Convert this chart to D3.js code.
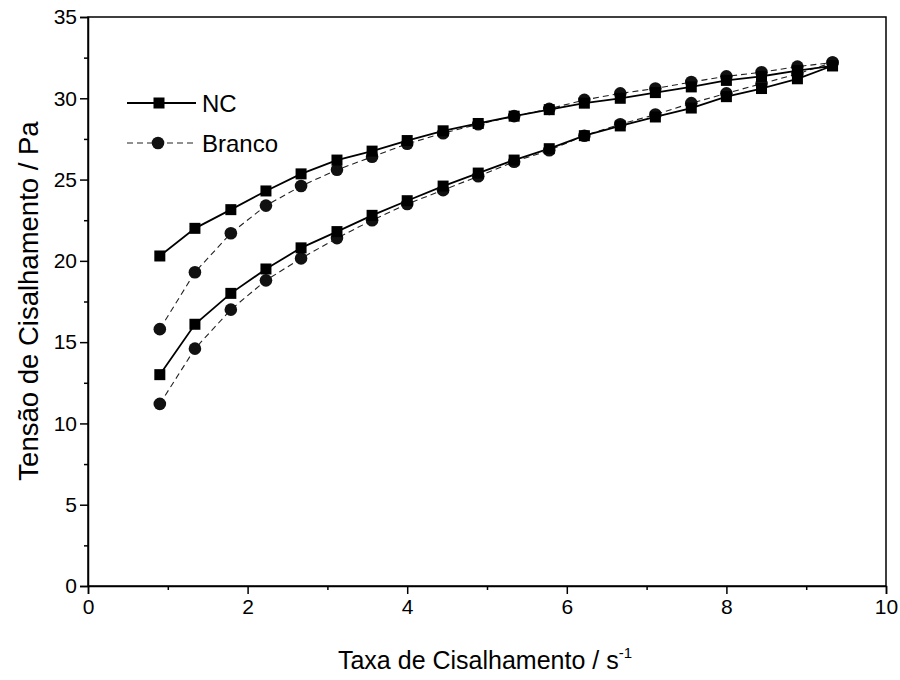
<!DOCTYPE html>
<html>
<head>
<meta charset="utf-8">
<script src="https://cdn.jsdelivr.net/npm/d3@7/dist/d3.min.js"></script>
<style>
  body { margin: 0; background: #fff; }
  svg { display: block; font-family: "Liberation Sans", Arial, sans-serif; }
</style>
</head>
<body>
<svg id="chart" width="900" height="680"></svg>
<script>
// ---- data ----
const shearRate = [0.90, 1.34, 1.79, 2.23, 2.67, 3.12, 3.56, 4.00, 4.45, 4.89,
                   5.34, 5.78, 6.22, 6.67, 7.11, 7.56, 8.00, 8.44, 8.89, 9.33];
const ncUp     = [13.0, 16.1, 18.0, 19.5, 20.8, 21.8, 22.8, 23.7, 24.6, 25.4,
                  26.2, 26.9, 27.7, 28.3, 28.85, 29.4, 30.1, 30.6, 31.2, 32.0];
const ncDown   = [20.3, 22.0, 23.15, 24.3, 25.35, 26.2, 26.75, 27.4, 28.0, 28.45,
                  28.9, 29.3, 29.7, 30.0, 30.35, 30.7, 31.1, 31.35, 31.7, 32.0];
const brUp     = [11.2, 14.6, 17.0, 18.8, 20.15, 21.4, 22.5, 23.5, 24.35, 25.2,
                  26.1, 26.8, 27.7, 28.4, 29.0, 29.7, 30.3, 30.9, 31.5, 32.2];
const brDown   = [15.8, 19.3, 21.7, 23.4, 24.6, 25.6, 26.4, 27.2, 27.85, 28.4,
                  28.9, 29.35, 29.9, 30.3, 30.6, 31.0, 31.35, 31.6, 31.95, 32.2];
const xTicks = [0, 2, 4, 6, 8, 10];
const xMinor = [1, 3, 5, 7, 9];
const yTicks = [0, 5, 10, 15, 20, 25, 30, 35];
const yMinor = [2.5, 7.5, 12.5, 17.5, 22.5, 27.5, 32.5];
const seriesNames = ["NC", "Branco"];
const xTitle = "Taxa de Cisalhamento / s";
const yTitle = "Tensão de Cisalhamento / Pa";

// ---- layout ----
const svg = d3.select("#chart");
const L = 88, R = 886, T = 17, B = 586;
const x = d3.scaleLinear().domain([0, 10]).range([L, R]);
const y = d3.scaleLinear().domain([0, 35]).range([B, T]);

function loop(up, down) {
  const pts = shearRate.map((v, i) => [v, up[i]]);
  for (let i = shearRate.length - 1; i >= 0; i--) pts.push([shearRate[i], down[i]]);
  return pts;
}
const ncPts = loop(ncUp, ncDown);
const brPts = loop(brUp, brDown);
const line = d3.line().x(d => x(d[0])).y(d => y(d[1]));

// frame
svg.append("rect").attr("x", L).attr("y", T).attr("width", R - L).attr("height", B - T)
  .attr("fill", "none").attr("stroke", "#000").attr("stroke-width", 1.5);

// axes
svg.append("g").attr("class", "axis").attr("transform", `translate(0,${B})`)
  .call(d3.axisBottom(x).tickValues(xTicks).tickSize(8).tickPadding(5).tickFormat(d3.format("d")));
svg.append("g").attr("transform", `translate(0,${B})`)
  .call(d3.axisBottom(x).tickValues(xMinor).tickSize(4).tickFormat(""))
  .call(g => g.select(".domain").remove());
svg.append("g").attr("class", "axis").attr("transform", `translate(${L},0)`)
  .call(d3.axisLeft(y).tickValues(yTicks).tickSize(8).tickPadding(3).tickFormat(d3.format("d")));
svg.append("g").attr("transform", `translate(${L},0)`)
  .call(d3.axisLeft(y).tickValues(yMinor).tickSize(4).tickFormat(""))
  .call(g => g.select(".domain").remove());
svg.selectAll("g.axis").attr("font-size", 21).attr("font-family", "'Liberation Sans', Arial, sans-serif");
svg.selectAll(".tick line").attr("stroke", "#000").attr("stroke-width", 1.5);
svg.selectAll(".domain").attr("stroke", "#000").attr("stroke-width", 1.5);
svg.selectAll(".tick text").style("font-size", "21px").attr("fill", "#000");

// lines
svg.append("path").datum(brPts).attr("d", line).attr("fill", "none")
  .attr("stroke", "#222").attr("stroke-width", 1.1).attr("stroke-dasharray", "6,4");
svg.append("path").datum(ncPts).attr("d", line).attr("fill", "none")
  .attr("stroke", "#000").attr("stroke-width", 1.8);

// markers
svg.append("g").selectAll("circle").data(brPts).join("circle")
  .attr("cx", d => x(d[0])).attr("cy", d => y(d[1])).attr("r", 6.3).attr("fill", "#111");
svg.append("g").selectAll("rect").data(ncPts).join("rect")
  .attr("x", d => x(d[0]) - 5.5).attr("y", d => y(d[1]) - 5.5)
  .attr("width", 11).attr("height", 11).attr("fill", "#000");

// legend
const lg = svg.append("g");
const legY = [103, 143];
lg.append("line").attr("x1", 127).attr("x2", 196).attr("y1", legY[0]).attr("y2", legY[0])
  .attr("stroke", "#000").attr("stroke-width", 1.8);
lg.append("rect").attr("x", 159 - 5.5).attr("y", legY[0] - 5.5).attr("width", 11).attr("height", 11).attr("fill", "#000");
lg.append("line").attr("x1", 127).attr("x2", 196).attr("y1", legY[1]).attr("y2", legY[1])
  .attr("stroke", "#222").attr("stroke-width", 1.1).attr("stroke-dasharray", "6,4");
lg.append("circle").attr("cx", 158).attr("cy", legY[1]).attr("r", 6.3).attr("fill", "#111");
seriesNames.forEach((n, i) => {
  lg.append("text").attr("x", 202).attr("y", legY[i]).attr("dy", "0.36em")
    .attr("font-size", 24).attr("fill", "#000").text(n);
});

// axis titles
const xt = svg.append("text").attr("x", 485).attr("y", 669)
  .attr("text-anchor", "middle").attr("font-size", 25).attr("fill", "#000");
xt.append("tspan").text(xTitle);
xt.append("tspan").attr("dy", -11).attr("font-size", 15).text("-1");
svg.append("text").attr("transform", `translate(38,301) rotate(-90)`)
  .attr("text-anchor", "middle").attr("font-size", 27.5).attr("fill", "#000").text(yTitle);
</script>
</body>
</html>
